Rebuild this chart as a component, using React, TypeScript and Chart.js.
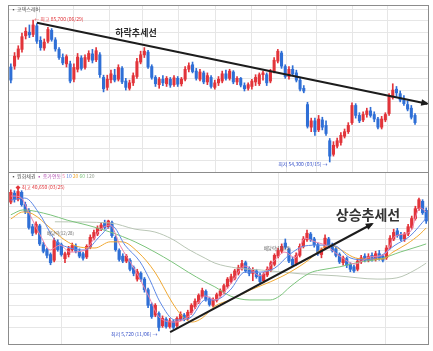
import React, { useEffect, useRef } from 'react';
import { Chart, registerables } from 'chart.js';

Chart.register(...registerables);

const UP = '#e2343a';
const DOWN = '#2f6fd6';
const GRID = '#e6e6e6';
const KR = '"Noto Sans CJK KR", "Noto Sans", sans-serif';

// ---------- upper panel (prices in thousand won) ----------
const topOpen = [75.3,75.5,77.5,79.2,82.2,83.0,82.5,84.4,81.2,79.5, 81.0,83.4,81.3,79.2,77.4,76.0,76.0,72.6,74.8,77.3, 75.2,77.0,78.2,76.9,78.0,73.0,70.8,72.5,73.5,72.6, 75.0,72.2,70.6,71.8,73.2,76.4,78.0,78.6,75.4,73.0, 71.4,72.6,71.6,72.6,71.4,72.8,71.6,72.6,74.8,75.8, 74.4,72.6,74.0,72.0,73.0,70.8,71.8,72.2,73.8,72.8, 74.2,72.0,72.8,71.2,70.6,71.0,72.0,71.6,73.6,73.6, 72.2,74.3,76.6,78.4,75.4,73.2,74.8,74.0,72.4,70.6, 67.0,62.0,63.4,61.4,63.6,62.4,59.0,56.0,57.8,58.6, 60.0,61.0,63.0,66.8,64.6,63.6,64.8,65.6,64.8,63.8, 62.0,63.6,65.0,68.6,70.4,69.4,68.2,67.0,66.2,64.6];
const topClose = [72.4,77.7,79.3,82.0,83.2,82.4,84.6,81.0,79.6,80.8, 83.6,81.4,79.3,77.4,76.2,77.6,72.2,75.2,77.5,75.0, 77.4,78.3,76.8,78.9,73.6,70.5,72.6,73.8,72.4,75.2, 72.0,70.8,71.8,73.4,76.5,78.0,78.8,75.3,73.0,71.6, 72.6,71.8,72.8,71.3,72.9,71.5,72.6,74.8,75.6,74.3, 72.8,74.2,72.0,73.4,71.0,71.8,72.6,73.8,72.8,74.4, 72.0,72.8,71.3,70.5,71.4,72.2,73.0,73.6,74.0,71.8, 74.4,76.8,78.8,75.5,73.2,74.8,73.8,72.4,70.4,70.0, 62.2,63.4,61.0,63.8,62.0,60.6,55.6,58.0,59.0,60.2, 61.0,62.4,66.8,64.6,63.4,64.8,65.6,64.6,63.8,62.0, 63.8,64.8,68.8,70.2,69.6,68.0,67.2,66.0,64.2,63.0];
const topHigh = [76.0,78.5,80.0,82.8,84.0,84.6,85.7,84.9,82.0,81.5, 84.1,83.8,81.8,79.6,78.2,78.0,76.6,76.0,78.3,77.8, 78.0,78.9,79.2,79.6,78.5,73.5,73.5,74.6,74.8,75.8, 75.4,72.8,72.4,74.0,77.2,78.8,79.6,79.0,75.8,73.4, 73.0,73.4,73.2,73.0,73.4,73.2,73.0,75.4,76.2,76.4, 75.0,74.8,74.4,74.0,73.4,72.4,73.2,74.4,74.6,74.8, 74.5,73.2,73.0,71.8,71.8,72.6,73.6,74.0,74.4,74.0, 74.8,77.4,79.2,78.8,75.8,75.4,75.6,74.6,72.8,71.2, 67.5,64.0,64.0,64.6,64.2,63.4,59.5,58.8,59.6,60.8, 61.6,63.0,67.4,67.2,65.2,65.4,66.2,66.4,65.4,64.2, 64.4,65.2,69.4,71.6,71.0,70.0,69.0,67.8,66.8,65.0];
const topLow = [71.8,74.8,77.0,78.6,81.5,81.8,82.0,80.5,79.0,79.0, 80.6,81.0,78.8,77.0,75.8,75.3,71.8,72.0,74.2,74.6, 74.8,76.5,76.2,76.5,73.0,69.8,70.2,71.8,72.0,72.2, 71.6,70.2,70.2,71.2,72.8,76.0,77.4,75.0,72.6,71.0, 70.6,71.2,71.0,70.8,71.0,71.0,71.1,72.2,74.2,74.0, 72.4,72.2,71.6,71.4,70.6,70.4,71.2,71.8,72.4,72.4, 71.6,71.4,70.9,70.0,70.2,70.4,71.2,71.2,72.4,71.2, 71.8,74.0,76.2,75.0,72.8,72.6,73.4,72.0,70.0,69.6, 61.8,61.0,60.2,61.0,61.4,60.2,54.3,55.6,57.4,58.0, 59.6,60.6,62.6,64.0,63.0,63.2,64.2,64.2,63.2,61.6, 61.6,63.2,64.6,68.2,68.8,67.6,66.8,65.6,63.8,62.6];
const topPeriodTicks = [6.8, 17.0, 26.7, 35.6, 45.1, 55.1, 64.8, 74.4, 82.5, 92.2, 101.7];
const topPriceGrid = [54.7, 57.3, 59.9, 62.4, 65.0, 67.6, 70.1, 72.7, 75.3, 77.8, 80.4, 83.0, 85.5, 88.1];
const topTrend = [[7.05, 85.1], [112.3, 67.2]];

// ---------- lower panel (prices in thousand won) ----------
const botOpen = [37.2,39.4,37.9,39.6,36.6,35.2,31.2,29.8,31.4,26.8, 25.6,24.4,23.0,27.4,26.8,23.4,24.4,25.6,26.4,25.2, 24.6,23.8,26.2,28.4,29.4,30.6,32.2,31.2,32.2,28.6, 25.4,24.0,22.8,23.0,21.2,18.4,19.8,18.4,15.8,12.2, 9.6,10.0,7.0,8.6,6.8,8.0,7.0,8.6,9.6,8.8, 10.2,11.6,12.8,14.2,15.4,13.6,12.0,13.2,14.4,15.2, 16.6,17.8,18.6,19.8,21.0,22.4,21.0,19.8,20.4,19.4, 18.0,19.4,20.6,22.0,24.0,25.2,27.2,25.6,23.2,22.2, 24.2,26.4,28.0,29.4,28.2,26.8,24.4,26.0,28.2,26.8, 25.8,24.4,22.4,23.4,22.0,21.4,20.8,22.6,24.0,23.0, 24.2,23.2,24.6,24.0,23.6,26.2,28.2,30.2,29.2,28.2, 29.4,31.0,33.2,35.6,37.4,35.2];
const botClose = [39.6,37.8,39.8,36.6,34.9,31.0,29.6,31.8,27.0,25.2, 24.2,22.4,27.8,25.6,24.4,24.6,25.8,26.6,25.2,24.0, 23.5,26.4,28.6,29.8,30.8,31.6,31.0,32.6,29.0,25.6, 23.2,22.8,24.0,20.8,19.8,20.2,18.4,15.8,12.0,9.2, 12.0,6.6,8.8,6.8,8.2,6.6,8.8,9.8,8.6,10.3, 12.0,13.0,14.4,15.6,13.4,12.2,13.4,14.6,15.5,16.8, 18.4,19.0,20.4,21.2,22.2,20.4,19.8,20.6,19.0,17.8, 19.6,20.8,22.4,24.2,25.4,26.4,26.2,22.8,21.8,24.2, 26.4,28.2,29.6,28.0,26.8,24.6,25.6,28.4,26.8,25.4, 24.2,22.6,23.6,21.8,20.8,20.4,22.8,23.6,23.0,23.9, 23.2,24.6,23.4,23.0,26.0,28.4,29.8,29.0,28.2,29.4, 31.2,33.2,35.6,37.8,34.6,32.6];
const botHigh = [40.2,40.0,40.65,40.0,37.2,35.6,31.8,32.4,31.8,27.4, 26.0,24.8,28.4,28.0,27.2,25.0,26.4,27.2,27.0,25.8, 25.0,26.8,29.2,30.4,31.4,32.2,32.8,32.8,32.6,29.0, 25.8,24.6,24.4,23.4,21.6,20.8,20.2,18.8,16.2,12.6, 12.4,10.4,9.4,9.0,8.8,8.4,9.2,10.4,10.0,10.8, 12.4,13.6,14.8,16.2,15.8,14.0,13.8,15.0,16.0,17.2, 18.8,19.6,20.8,21.8,23.0,22.8,21.4,21.2,20.8,19.8, 20.0,21.4,22.8,24.6,26.0,27.0,28.2,26.0,23.8,24.8, 27.0,28.8,30.4,29.8,28.6,27.2,26.0,29.2,28.6,27.2, 26.2,24.8,24.0,23.8,22.4,21.8,23.4,24.2,24.6,24.6, 24.8,25.2,25.4,24.4,26.6,29.0,30.6,30.8,29.8,29.8, 31.8,33.8,36.2,38.2,37.8,35.8];
const botLow = [36.8,37.2,37.5,36.2,34.4,30.6,29.0,29.4,26.6,24.8, 23.6,21.9,22.6,25.2,24.0,22.4,23.8,25.2,24.8,23.6, 23.0,23.4,25.8,28.0,29.0,30.2,30.6,30.8,28.6,25.2, 22.8,22.4,22.4,20.4,19.2,17.9,17.8,15.2,11.4,8.8, 9.2,5.72,6.6,6.4,6.4,6.2,6.6,8.2,8.2,8.4, 9.8,11.2,12.4,13.8,13.0,11.8,11.6,12.8,14.0,14.8, 16.2,17.4,18.2,19.4,20.6,20.0,19.2,18.0,18.6,17.4, 17.6,19.0,20.2,21.6,23.6,24.8,25.8,22.4,21.4,21.8, 23.8,26.0,27.6,27.6,26.2,24.2,23.6,25.6,26.4,25.0, 23.8,22.2,21.8,21.2,20.2,20.0,20.4,22.2,22.6,22.6, 22.8,22.8,23.0,22.6,23.2,25.8,27.8,28.6,27.8,27.6, 29.0,30.6,32.8,35.2,34.2,32.0];

// moving-average readings [candle index, price]
const ma5 = [[0,38.7],[2.5,38.5],[5.3,34.1],[8.1,29.2],[10.9,25.5],[13.6,26.7],[16.4,25.0],[20.5,25.5],[24.7,30.4],[27.5,31.6],[30.2,26.7],[34.4,20.6],[38.0,14.5],[41.3,8.9],[45.5,7.9],[49.6,9.6],[53.8,14.3],[56.5,13.3],[60.7,17.0],[64.8,21.6],[69.0,19.2],[73.1,23.1],[75.9,25.0],[78.7,23.6],[81.4,28.4],[84.2,27.5],[87.0,26.7],[91.1,24.0],[95.3,22.1],[99.4,23.8],[103.6,24.5],[106.4,28.9],[110.5,29.9],[113.3,35.8],[115,34.8]];
const ma10 = [[0,37.7],[3.9,38.2],[8.1,34.1],[12.2,28.0],[16.4,26.0],[20.5,25.5],[24.7,28.9],[28.0,31.4],[31.6,26.7],[35.8,22.6],[38.5,18.2],[41.3,12.8],[45.5,8.4],[49.6,8.9],[53.8,13.3],[56.5,13.3],[60.7,15.7],[64.8,20.1],[69.0,20.1],[73.1,21.1],[77.3,24.5],[81.4,26.5],[85.6,26.7],[89.8,26.5],[93.9,23.6],[98.1,23.1],[102.2,24.0],[106.4,26.7],[110.5,28.9],[115,33.3]];
const ma20 = [[0,33.1],[3.4,34.8],[6.1,34.3],[10.9,30.9],[15.0,27.9],[19.2,26.2],[23.3,26.0],[27.5,27.5],[30.8,27.5],[35.2,25.0],[39.9,20.1],[44.6,12.8],[47.4,9.4],[50.2,7.9],[53.0,8.9],[56.5,11.8],[60.7,13.3],[66.2,15.7],[71.8,17.7],[77.3,20.1],[82.8,23.3],[85.6,25.5],[88.4,26.7],[91.1,25.7],[94.7,23.8],[97.5,23.3],[103.0,23.3],[105.8,25.0],[109.7,27.0],[113.3,29.4],[115,30.9]];
const ma60 = [[0,34.1],[3.4,35.3],[10.9,34.1],[15.6,32.8],[21.1,31.6],[27.5,29.9],[34.4,27.5],[39.9,25.0],[44.6,22.6],[49.1,20.1],[53.8,17.7],[56.5,16.5],[60.7,14.3],[66.2,13.3],[71.8,13.3],[74.5,14.3],[77.3,16.5],[82.8,19.9],[85.6,20.6],[91.1,21.4],[96.7,22.6],[102.2,23.3],[107.8,25.0],[113.3,26.5],[115,27.0]];
const ma120 = [[12.2,32.4],[27.5,32.1],[34.4,30.6],[39.9,29.9],[44.6,28.2],[49.1,25.7],[53.8,23.5],[56.5,22.3],[62.6,21.1],[69.5,20.6],[80.1,19.7],[90.3,19.2],[101.4,18.4],[106.9,18.7],[112.5,20.9],[115,22.3]];
const botPeriodTicks = [13.9, 44.1, 74.0, 103.6];
const botPriceGrid = [6.45, 9.14, 11.83, 14.52, 17.21, 19.9, 22.59, 25.28, 27.97, 30.66, 33.35, 36.04, 38.73, 41.42];
const botTrend = [[44.1, 5.47], [100.0, 31.86]];

// ---------- helpers ----------
function candleSets(open: number[], high: number[], low: number[], close: number[], bodyW: number) {
  const colors = close.map((c, i) => (c >= open[i] ? UP : DOWN));
  return [
    { type: 'bar', data: open.map((o, i) => ({ x: i, y: [o, close[i]] })), backgroundColor: colors, barThickness: bodyW, grouped: false, minBarLength: 1, order: 3 },
    { type: 'bar', data: low.map((l, i) => ({ x: i, y: [l, high[i]] })), backgroundColor: colors, barThickness: 1, grouped: false, order: 4 },
  ];
}

function lineSet(points: number[][], color: string, width: number, order: number, extra: any = {}) {
  return {
    type: 'line',
    data: points.map(([x, y]) => ({ x, y })),
    borderColor: color,
    backgroundColor: color,
    borderWidth: width,
    pointRadius: 0,
    cubicInterpolationMode: 'monotone',
    fill: false,
    order,
    ...extra,
  };
}

const annotatePlugin = {
  id: 'annotate',
  afterDatasetsDraw(chart: any, _a: any, opts: any) {
    const { ctx, chartArea } = chart;
    const xs = chart.scales.x;
    const ys = chart.scales.y;
    chart.data.datasets.forEach((ds: any, di: number) => {
      if (!ds.arrowHead) return;
      const pts = chart.getDatasetMeta(di).data;
      if (pts.length < 2) return;
      const a = pts[pts.length - 2];
      const b = pts[pts.length - 1];
      const ang = Math.atan2(b.y - a.y, b.x - a.x);
      const L = ds.arrowHead;
      const W = L * 0.42;
      const tx = b.x + Math.cos(ang) * 2;
      const ty = b.y + Math.sin(ang) * 2;
      ctx.save();
      ctx.fillStyle = ds.borderColor;
      ctx.beginPath();
      ctx.moveTo(tx, ty);
      ctx.lineTo(tx - L * Math.cos(ang) + W * Math.sin(ang), ty - L * Math.sin(ang) - W * Math.cos(ang));
      ctx.lineTo(tx - L * Math.cos(ang) - W * Math.sin(ang), ty - L * Math.sin(ang) + W * Math.cos(ang));
      ctx.closePath();
      ctx.fill();
      ctx.restore();
    });
    for (const n of opts.notes || []) {
      const px = n.x !== undefined ? xs.getPixelForValue(n.x) : chartArea.left + n.dx;
      const py = n.y !== undefined ? ys.getPixelForValue(n.y) : chartArea.top + n.dy;
      ctx.save();
      ctx.font = n.font;
      ctx.textBaseline = 'middle';
      const segs = n.segments || [{ text: n.text, color: n.color }];
      const total = segs.reduce((s: number, g: any) => s + ctx.measureText(g.text).width, 0);
      let cx = n.align === 'right' ? px - total : n.align === 'center' ? px - total / 2 : px;
      for (const g of segs) {
        ctx.fillStyle = g.color;
        ctx.fillText(g.text, cx, py);
        cx += ctx.measureText(g.text).width;
      }
      ctx.restore();
    }
  },
};

function makeConfig(sets: any[], xMax: number, yMin: number, yMax: number, xTicks: number[], yTicks: number[], notes: any[]) {
  return {
    type: 'bar',
    data: { datasets: sets },
    options: {
      responsive: false,
      maintainAspectRatio: false,
      animation: false,
      layout: { padding: 0 },
      plugins: { legend: { display: false }, tooltip: { enabled: false }, annotate: { notes } },
      scales: {
        x: {
          type: 'linear', min: -0.5, max: xMax, offset: false,
          ticks: { display: false },
          grid: { color: GRID, drawTicks: false, offset: false, lineWidth: 1 },
          border: { display: false },
          afterBuildTicks: (s: any) => { s.ticks = xTicks.map((v) => ({ value: v })); },
        },
        y: {
          type: 'linear', min: yMin, max: yMax,
          ticks: { display: false },
          grid: { color: GRID, drawTicks: false, lineWidth: 1 },
          border: { display: false },
          afterBuildTicks: (s: any) => { s.ticks = yTicks.map((v) => ({ value: v })); },
        },
      },
    },
    plugins: [annotatePlugin],
  } as any;
}

const small = `5px ${KR}`;

function topConfig() {
  const sets = [
    lineSet(topTrend, '#1c1c1c', 2, 0, { arrowHead: 8, cubicInterpolationMode: 'default', tension: 0 }),
    ...candleSets(topOpen, topHigh, topLow, topClose, 2.4),
  ];
  const notes = [
    { dx: 2, dy: 3, font: small, segments: [{ text: '▪ 코덱스레버', color: '#555' }] },
    { x: 6.3, y: 85.95, font: small, text: '← 최고 85,700 (06/29)', color: '#e2343a', align: 'left' },
    { x: 85.4, y: 53.9, font: small, text: '최저 54,300 (03/15) →', color: '#3550c8', align: 'right' },
    { x: 33.75, y: 83.0, font: `bold 9px ${KR}`, text: '하락추세선', color: '#2a2a2a', align: 'center' },
  ];
  return makeConfig(sets, 112.5, 52.09, 88.79, topPeriodTicks, topPriceGrid, notes);
}

function bottomConfig() {
  const sets = [
    lineSet(botTrend, '#1c1c1c', 2, 0, { arrowHead: 8, cubicInterpolationMode: 'default', tension: 0 }),
    lineSet(ma5, '#ee82aa', 1, 1),
    lineSet(ma10, '#5d88e6', 1, 1),
    lineSet(ma20, '#f0a832', 1, 1),
    lineSet(ma60, '#7cc47c', 1, 1),
    lineSet(ma120, '#b9c6b5', 1, 1),
    ...candleSets(botOpen, botHigh, botLow, botClose, 2.6),
  ];
  const notes = [
    {
      dx: 2, dy: 3, font: small,
      segments: [
        { text: '▪ 원화채권 ', color: '#555' },
        { text: '▪ 종가연동 ', color: '#b455b4' },
        { text: '5 ', color: '#ee82aa' },
        { text: '10 ', color: '#5d88e6' },
        { text: '20 ', color: '#f0a832' },
        { text: '60 ', color: '#7cc47c' },
        { text: '120', color: '#9aa596' },
      ],
    },
    { x: 1.3, y: 40.9, font: small, text: '◆ 최고 40,650 (03/25)', color: '#e2343a', align: 'left' },
    { x: 40.6, y: 5.0, font: small, text: '최저 5,720 (11/06) →', color: '#3550c8', align: 'right' },
    { x: 10.0, y: 29.7, font: `4.5px ${KR}`, text: '배당락(12/28)', color: '#666', align: 'left' },
    { x: 70.0, y: 26.0, font: `4.5px ${KR}`, text: '배당락(12/28)', color: '#666', align: 'left' },
    { x: 98.9, y: 34.1, font: `bold 14px ${KR}`, text: '상승추세선', color: '#333', align: 'center' },
  ];
  return makeConfig(sets, 115.5, 2.54, 44.32, botPeriodTicks, botPriceGrid, notes);
}

function Panel({ make, top, height }: { make: () => any; top: number; height: number }) {
  const ref = useRef<HTMLCanvasElement>(null);
  useEffect(() => {
    const chart = new Chart(ref.current as HTMLCanvasElement, make());
    return () => chart.destroy();
  }, [make]);
  return (
    <div style={{ position: 'absolute', left: 8, top, width: 419, height, border: '1px solid #8c8c8c', background: '#fff' }}>
      <canvas ref={ref} width={419} height={height} style={{ display: 'block', width: 419, height }} />
    </div>
  );
}

export default function App() {
  return (
    <div style={{ position: 'fixed', left: 0, top: 0, width: 433, height: 351, background: '#fff', overflow: 'hidden' }}>
      <Panel make={topConfig} top={5} height={166} />
      <Panel make={bottomConfig} top={172} height={171} />
    </div>
  );
}
